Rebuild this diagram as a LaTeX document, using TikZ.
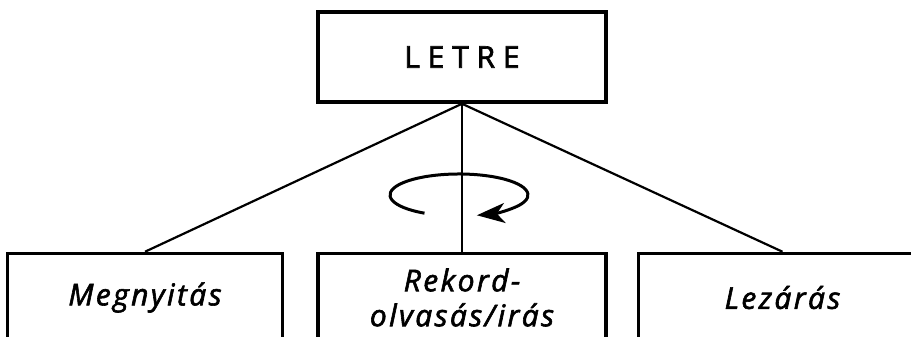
\documentclass[tikz,border=0pt]{standalone}
\usepackage{fontspec}
\setmainfont{Open Sans}
\usepackage{tikz}
\usetikzlibrary{positioning,arrows.meta}
\begin{document}
\begin{tikzpicture}[x=1pt,y=1pt,
  rootbox/.style={rectangle, draw=black, line width=3.5pt, minimum width=288pt,
    minimum height=90pt, inner sep=0pt,
    font=\fontsize{30}{34}\selectfont\addfontfeatures{LetterSpace=26,FakeBold=2}},
  opbox/.style={rectangle, draw=black, line width=3.5pt, minimum width=275pt,
    minimum height=88pt, inner sep=0pt, align=center,
    font=\fontsize{30}{35}\selectfont\itshape\addfontfeatures{LetterSpace=8,FakeBold=2}},
  conn/.style={line width=2.2pt, color=black},
  loopar/.style={-{Stealth[length=28pt,width=20pt,inset=8pt]}, line width=3pt}
]
\useasboundingbox (0,0) rectangle (911,337);
\node[rootbox] (letre) at (462,280) {LETRE};
\node[opbox,minimum width=288pt,below=148pt of letre] (rw) {Rekord-\\olvasás/irás};
\node[opbox,left=32pt of rw] (open) {Megnyitás};
\node[opbox,minimum width=288pt,right=29pt of rw] (close) {Lezárás};
\draw[conn] (letre.south) -- (open.north);
\draw[conn] (letre.south) -- (rw.north);
\draw[conn] (letre.south) -- (close.north);
\coordinate (lp) at (459,142);
\draw[loopar] ([shift={(240:69pt and 21pt)}]lp) arc[start angle=240, end angle=-75, x radius=69pt, y radius=21pt];
\end{tikzpicture}
\end{document}
